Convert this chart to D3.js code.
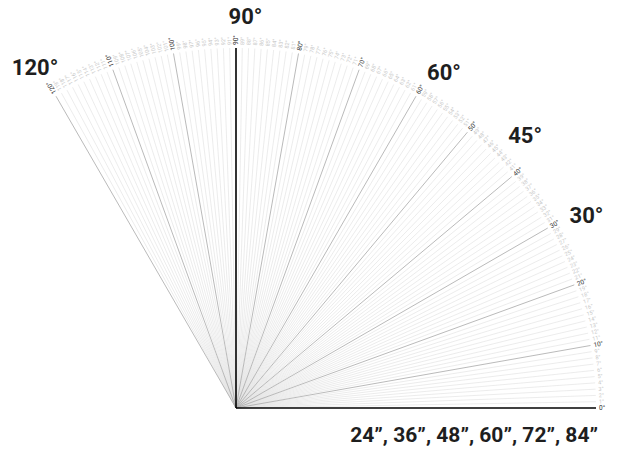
<!DOCTYPE html>
<html>
<head>
<meta charset="utf-8">
<script src="https://d3js.org/d3.v7.min.js"></script>
<style>
  body { margin: 0; background: #fff; }
  text { font-family: Roboto, "Noto Sans", sans-serif; }
</style>
</head>
<body>
<svg id="fan" width="618" height="450"></svg>
<script>
// angles of every ray, the labelled ones and the call-outs
var minorDegrees = d3.range(0, 121);           // 0..120 every degree
var majorDegrees = [0, 10, 20, 30, 40, 50, 60, 70, 80, 90, 100, 110, 120];
var boldDegrees  = [0, 90];
var calloutAngles = [30, 45, 60, 90, 120];
var calloutLabels = ["30°", "45°", "60°", "90°", "120°"];
var sizeLabels    = ["24”", "36”", "48”", "60”", "72”", "84”"];

var svg = d3.select("#fan");
var cx = 236, cy = 408;
var R  = 360;

var rad = d3.scaleLinear().domain([0, 180]).range([0, Math.PI]);
var rr  = d3.scaleLinear().domain([0, 1]).range([0, R]);

var g = svg.append("g").attr("transform", "translate(" + cx + "," + cy + ")");

function px(a, r) { return  r * Math.cos(rad(a)); }
function py(a, r) { return -r * Math.sin(rad(a)); }

// faint 1 degree rays
g.selectAll("line.minor")
  .data(minorDegrees.filter(function(d) { return d % 10 != 0; }))
  .enter().append("line")
  .attr("class", "minor")
  .attr("x1", 0).attr("y1", 0)
  .attr("x2", function(d) { return px(d, rr(1)); })
  .attr("y2", function(d) { return py(d, rr(1)); })
  .attr("stroke", "#e4e4e4")
  .attr("stroke-width", 0.7);

// 10 degree rays
g.selectAll("line.major")
  .data(majorDegrees.filter(function(d) { return boldDegrees.indexOf(d) < 0; }))
  .enter().append("line")
  .attr("class", "major")
  .attr("x1", 0).attr("y1", 0)
  .attr("x2", function(d) { return px(d, rr(1)); })
  .attr("y2", function(d) { return py(d, rr(1)); })
  .attr("stroke", "#a8a8a8")
  .attr("stroke-width", 0.8);

// 0 and 90
g.selectAll("line.bold")
  .data(boldDegrees)
  .enter().append("line")
  .attr("class", "bold")
  .attr("x1", 0).attr("y1", 0)
  .attr("x2", function(d) { return px(d, rr(1)); })
  .attr("y2", function(d) { return py(d, rr(1)); })
  .attr("stroke", "#000")
  .attr("stroke-width", 1.6);

// tiny degree labels round the rim
g.selectAll("text.deg")
  .data(minorDegrees)
  .enter().append("text")
  .attr("class", "deg")
  .attr("transform", function(d) { return "rotate(" + (-d) + ") translate(" + (R + 3) + ",0)"; })
  .attr("dy", "0.35em")
  .attr("font-size", function(d) { return d % 10 == 0 ? 6.5 : 5.5; })
  .attr("fill", function(d) { return d % 10 == 0 ? "#333" : "#c8c8c8"; })
  .text(function(d) { return d + "°"; });

// big call-outs, centred on a flattened ring a bit outside the rim
function calloutAngle(d) { return d <= 90 ? d - 1.5 : d; }
svg.selectAll("text.callout")
  .data(calloutAngles)
  .enter().append("text")
  .attr("class", "callout")
  .attr("x", function(d) { return cx - 1 + px(calloutAngle(d), 400); })
  .attr("y", function(d) { return cy - 11 + py(calloutAngle(d), 381); })
  .attr("dy", "0.36em")
  .attr("text-anchor", "middle")
  .attr("font-size", 22)
  .attr("font-weight", 700)
  .attr("fill", "#1e1e1e")
  .text(function(d, i) { return calloutLabels[i]; });

svg.append("text")
  .attr("x", 598)
  .attr("y", 442)
  .attr("text-anchor", "end")
  .attr("font-size", 21)
  .attr("font-weight", 700)
  .attr("fill", "#1e1e1e")
  .text(sizeLabels.join(", "));
</script>
</body>
</html>
